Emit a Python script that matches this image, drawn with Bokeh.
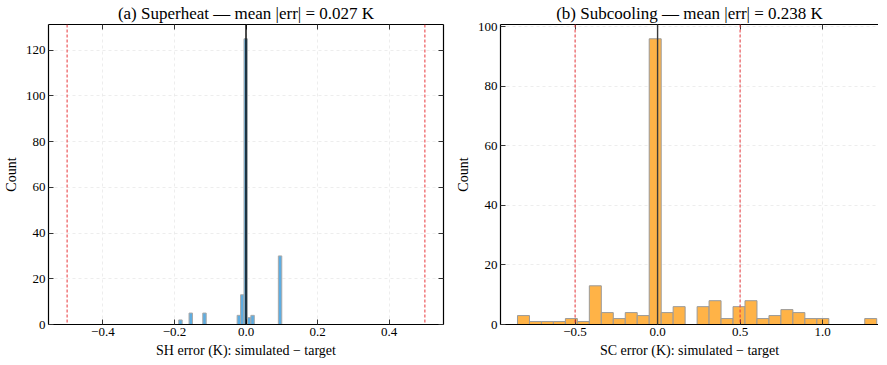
from bokeh.plotting import figure
from bokeh.layouts import row
from bokeh.models import Span, LinearAxis, FixedTicker, CustomJSTickFormatter, Range1d
from bokeh.embed import file_html
from bokeh.resources import INLINE

# ---- data ----
sh_title = "(a) Superheat \u2014 mean |err| = 0.027 K"
sh_xlabel = "SH error (K): simulated \u2212 target"
sh_bin_width = 0.0096
sh_bin_left = [-0.1880, -0.1592, -0.1208, -0.0248, -0.0152, -0.0056, 0.0040, 0.0136, 0.0904]
sh_counts = [2, 5, 5, 4, 13, 125, 3, 4, 30]
sh_xticks = [-0.4, -0.2, 0.0, 0.2, 0.4]
sh_yticks = [0, 20, 40, 60, 80, 100, 120]

sc_title = "(b) Subcooling \u2014 mean |err| = 0.238 K"
sc_xlabel = "SC error (K): simulated \u2212 target"
sc_bin_width = 0.07257
sc_bin_left = [-0.8490, -0.7764, -0.7039, -0.6313, -0.5587, -0.4862, -0.4136, -0.3410,
               -0.2684, -0.1959, -0.1233, -0.0507, 0.0218, 0.0944, 0.2396, 0.3121,
               0.3847, 0.4573, 0.5298, 0.6024, 0.6750, 0.7475, 0.8201, 0.8927,
               0.9653, 1.2555]
sc_counts = [3, 1, 1, 1, 2, 1, 13, 4, 2, 4, 3, 96, 4, 6, 6, 8,
             2, 6, 8, 2, 3, 5, 4, 2, 2, 2]
sc_xticks = [-0.5, 0.0, 0.5, 1.0]
sc_yticks = [0, 20, 40, 60, 80, 100]

tol_lines = [-0.5, 0.5]

FONT = "Liberation Serif"
fmt = CustomJSTickFormatter(code="return tick.toFixed(1).replace('-', '\u2212');")
blank = CustomJSTickFormatter(code="return '';")


def style_axis(ax, labels=True):
    ax.axis_line_color = "black"
    ax.axis_line_width = 1.2
    ax.major_tick_in = 5
    ax.major_tick_out = 0
    ax.major_tick_line_color = "#333333"
    ax.minor_tick_line_color = None
    ax.major_label_text_font = FONT
    ax.major_label_text_font_size = "13px"
    ax.major_label_text_color = "black"
    ax.major_label_standoff = 3
    ax.axis_label_text_font = FONT
    ax.axis_label_text_font_size = "14px"
    ax.axis_label_text_font_style = "normal"
    ax.axis_label_text_color = "black"
    ax.axis_label_standoff = 4
    if not labels:
        ax.major_label_standoff = 0


def panel(title, xlabel, lefts, counts, bw, fill, edge, xr, yr, xticks, yticks,
          fw, fh, right_axis, zero_color, mbl, mbr):
    p = figure(frame_width=fw, frame_height=fh, output_backend="svg", toolbar_location=None,
               x_range=Range1d(*xr), y_range=Range1d(*yr), min_border=0,
               min_border_left=mbl, min_border_right=mbr, min_border_top=0, min_border_bottom=0)
    p.title.text = title
    p.title.text_font = FONT
    p.title.text_font_size = "17px"
    p.title.text_font_style = "normal"
    p.title.text_color = "black"
    p.title.align = "center"
    p.title.offset = 0
    p.title.standoff = 3
    p.outline_line_color = None
    p.background_fill_color = "white"
    p.border_fill_color = "white"

    rights = [l + bw for l in lefts]
    p.quad(left=lefts, right=rights, bottom=0, top=counts, fill_color=fill,
           line_color=edge, line_width=1)

    for loc in tol_lines:
        p.add_layout(Span(location=loc, dimension="height", line_color="#e8363a",
                          line_dash="3 2", line_width=1))
    p.add_layout(Span(location=0, dimension="height", line_color=zero_color, line_width=1.4))

    p.xaxis.ticker = FixedTicker(ticks=xticks)
    p.xaxis.formatter = fmt
    p.yaxis.ticker = FixedTicker(ticks=yticks)
    p.xaxis.axis_label = xlabel
    p.yaxis.axis_label = "Count"
    style_axis(p.xaxis[0])
    style_axis(p.yaxis[0])

    top = LinearAxis(ticker=FixedTicker(ticks=xticks), formatter=blank)
    style_axis(top, labels=False)
    p.add_layout(top, "above")
    if right_axis:
        rt = LinearAxis(ticker=FixedTicker(ticks=yticks), formatter=blank)
        style_axis(rt, labels=False)
        p.add_layout(rt, "right")

    p.xgrid.ticker = FixedTicker(ticks=xticks)
    p.ygrid.ticker = FixedTicker(ticks=yticks)
    for g in (p.xgrid[0], p.ygrid[0]):
        g.grid_line_color = "#e8e8e8"
        g.grid_line_dash = "3 3"
        g.grid_line_width = 0.8
    return p


fh = 300
p1 = panel(sh_title, sh_xlabel, sh_bin_left, sh_counts, sh_bin_width, "#5dade2", "#a9a9a9",
           (-0.552, 0.552), (0, 131.25), sh_xticks, sh_yticks, 395, fh, True, "black", 43, 9)
sc_fw = 378
p2 = panel(sc_title, sc_xlabel, sc_bin_left, sc_counts, sc_bin_width, "#ffb347", "#9a9a9a",
           (-0.952, -0.952 + sc_fw / 165.0), (0, 100.8), sc_xticks, sc_yticks, sc_fw, fh, False,
           "#3a3a3a", 0, 0)

layout = row(p1, p2)
open("out.html", "w").write(file_html(layout, INLINE))
